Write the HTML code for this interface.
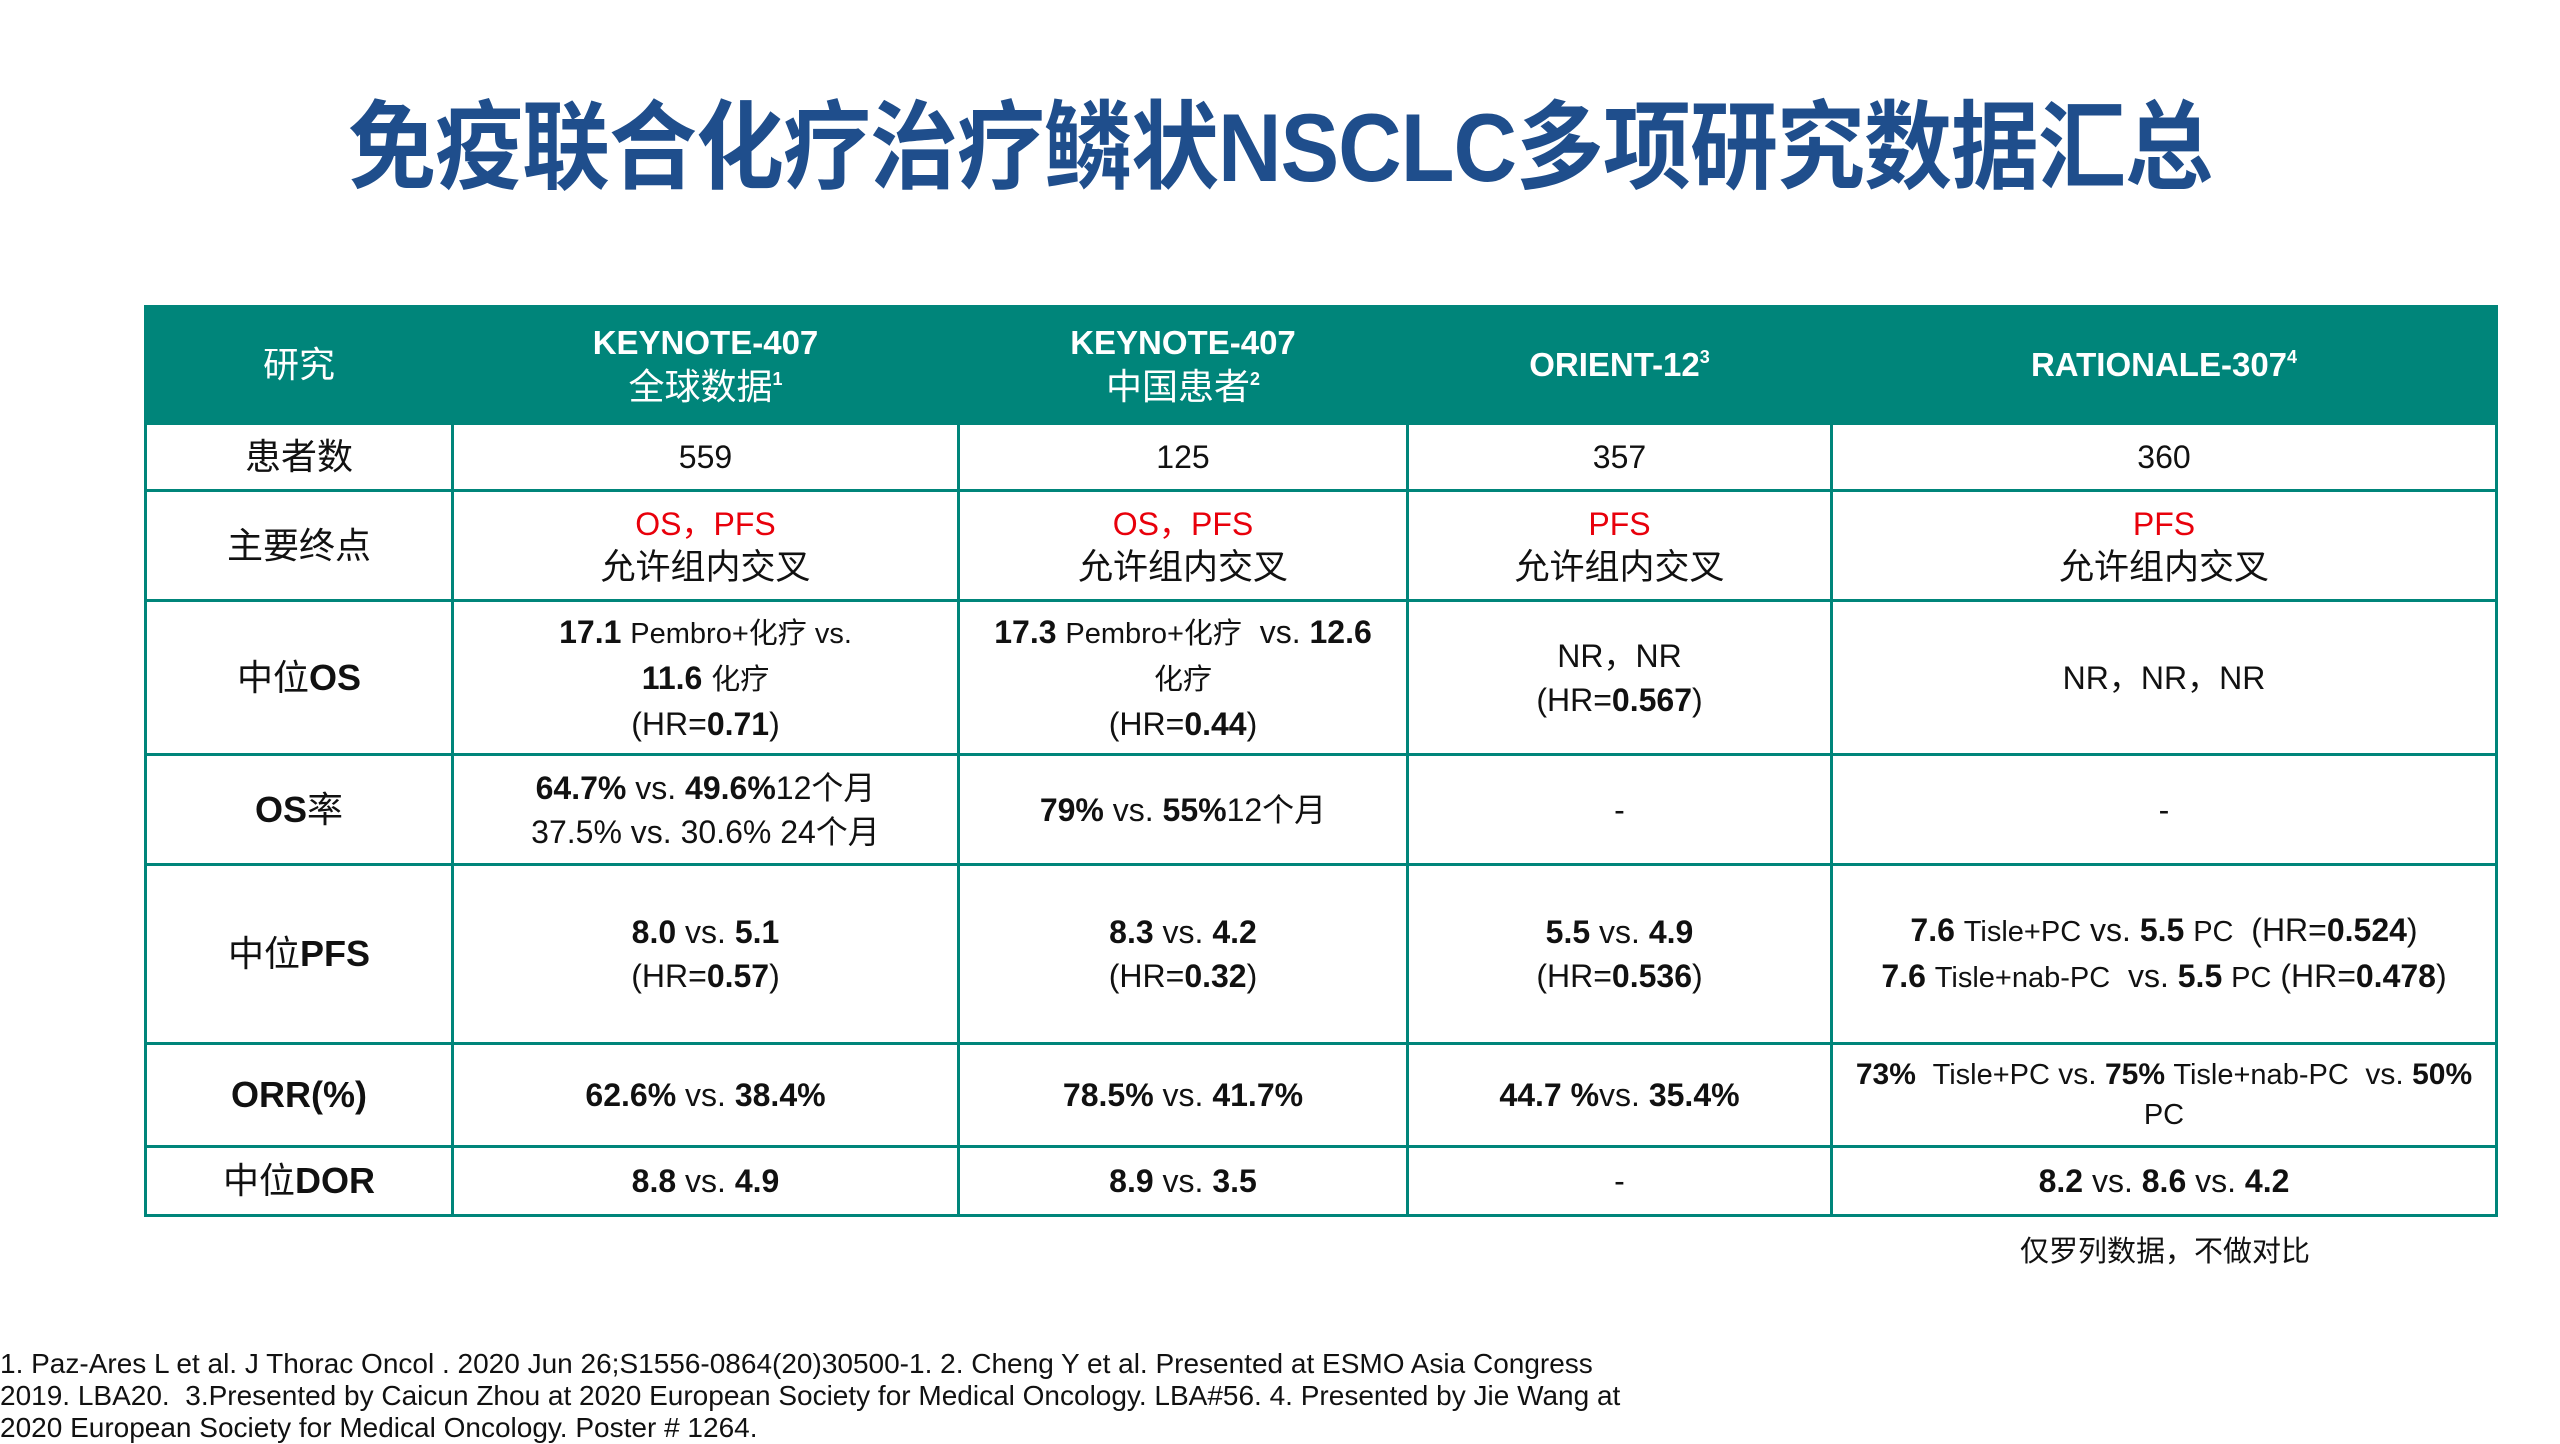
<!DOCTYPE html>
<html><head><meta charset="utf-8"><style>
html,body{margin:0;padding:0;background:#fff;}
body{width:2560px;height:1440px;position:relative;overflow:hidden;font-family:"Liberation Sans","Noto Sans CJK SC",sans-serif;color:#111;}
#title{position:absolute;left:0;width:2560px;top:76px;text-align:center;font-size:88px;font-weight:bold;color:#1f4e8c;transform:scaleY(1.1);letter-spacing:-1px;white-space:nowrap;}
table{position:absolute;left:144px;top:305px;border-collapse:collapse;table-layout:fixed;width:2351px;}
td,th{border:3px solid #00857a;text-align:center;vertical-align:middle;padding:0 8px;font-size:32px;line-height:44px;}
th{background:#00857a;color:#fff;font-weight:bold;font-size:33px;}
th.first{font-weight:normal;font-size:36px;}
td.rh{font-size:36px;}
b{font-weight:bold;}
.red{color:#e8000b;}
sup{font-size:18px;vertical-align:top;line-height:28px;}
.s{font-size:29px;}
#note{position:absolute;left:1990px;top:1228px;width:350px;text-align:center;font-size:29px;}
#foot{position:absolute;left:0;top:1348px;font-size:28px;line-height:32px;width:1640px;}
</style></head><body>
<div id="title">免疫联合化疗治疗鳞状NSCLC多项研究数据汇总</div>
<table>
<colgroup><col style="width:307px"><col style="width:506px"><col style="width:449px"><col style="width:424px"><col style="width:665px"></colgroup>
<tr style="height:117px">
<th class="first">研究</th>
<th>KEYNOTE-407<br><span style="font-weight:normal;font-size:36px">全球数据</span><sup>1</sup></th>
<th>KEYNOTE-407<br><span style="font-weight:normal;font-size:36px">中国患者</span><sup>2</sup></th>
<th>ORIENT-12<sup>3</sup></th>
<th>RATIONALE-307<sup>4</sup></th>
</tr>
<tr style="height:67px">
<td class="rh">患者数</td><td>559</td><td>125</td><td>357</td><td>360</td></tr>
<tr style="height:110px">
<td class="rh">主要终点</td>
<td><span class="red">OS，PFS</span><br><span style="font-size:35px">允许组内交叉</span></td>
<td><span class="red">OS，PFS</span><br><span style="font-size:35px">允许组内交叉</span></td>
<td><span class="red">PFS</span><br><span style="font-size:35px">允许组内交叉</span></td>
<td><span class="red">PFS</span><br><span style="font-size:35px">允许组内交叉</span></td></tr>
<tr style="height:154px">
<td class="rh">中位<b>OS</b></td>
<td><b>17.1</b> <span class="s">Pembro+化疗 vs.</span><br><b>11.6</b> <span class="s">化疗</span><br>(HR=<b>0.71</b>)</td>
<td><b>17.3</b> <span class="s">Pembro+化疗</span>&nbsp; vs. <b>12.6</b><br><span class="s">化疗</span><br>(HR=<b>0.44</b>)</td>
<td>NR，NR<br>(HR=<b>0.567</b>)</td>
<td>NR，NR，NR</td></tr>
<tr style="height:110px">
<td class="rh"><b>OS</b>率</td>
<td><b>64.7%</b> vs. <b>49.6%</b>12个月<br>37.5% vs. 30.6% 24个月</td>
<td><b>79%</b> vs. <b>55%</b>12个月</td><td>-</td><td>-</td></tr>
<tr style="height:179px">
<td class="rh">中位<b>PFS</b></td>
<td><b>8.0</b> vs. <b>5.1</b><br>(HR=<b>0.57</b>)</td>
<td><b>8.3</b> vs. <b>4.2</b><br>(HR=<b>0.32</b>)</td>
<td><b>5.5</b> vs. <b>4.9</b><br>(HR=<b>0.536</b>)</td>
<td><b>7.6</b> <span class="s">Tisle+PC</span> vs. <b>5.5</b> <span class="s">PC</span>&nbsp; (HR=<b>0.524</b>)<br><b>7.6</b> <span class="s">Tisle+nab-PC</span>&nbsp; vs. <b>5.5</b> <span class="s">PC</span>&nbsp;(HR=<b>0.478</b>)</td></tr>
<tr style="height:103px">
<td class="rh"><b>ORR(%)</b></td>
<td><b>62.6%</b> vs. <b>38.4%</b></td>
<td><b>78.5%</b> vs. <b>41.7%</b></td>
<td><b>44.7</b> <b>%</b>vs. <b>35.4%</b></td>
<td style="font-size:30px;line-height:40px"><b>73%</b>&nbsp; <span class="s">Tisle+PC</span> vs. <b>75%</b> <span class="s">Tisle+nab-PC</span>&nbsp; vs. <b>50%</b><br><span class="s">PC</span></td></tr>
<tr style="height:69px">
<td class="rh">中位<b>DOR</b></td>
<td><b>8.8</b> vs. <b>4.9</b></td>
<td><b>8.9</b> vs. <b>3.5</b></td>
<td>-</td>
<td><b>8.2</b> vs. <b>8.6</b> vs. <b>4.2</b></td></tr>
</table>
<div id="note">仅罗列数据，不做对比</div>
<div id="foot">1. Paz-Ares L et al. J Thorac Oncol . 2020 Jun 26;S1556-0864(20)30500-1. 2. Cheng Y et al. Presented at ESMO Asia Congress 2019. LBA20.&nbsp; 3.Presented by Caicun Zhou at 2020 European Society for Medical Oncology. LBA#56. 4. Presented by Jie Wang at 2020 European Society for Medical Oncology. Poster # 1264.</div>
</body></html>
